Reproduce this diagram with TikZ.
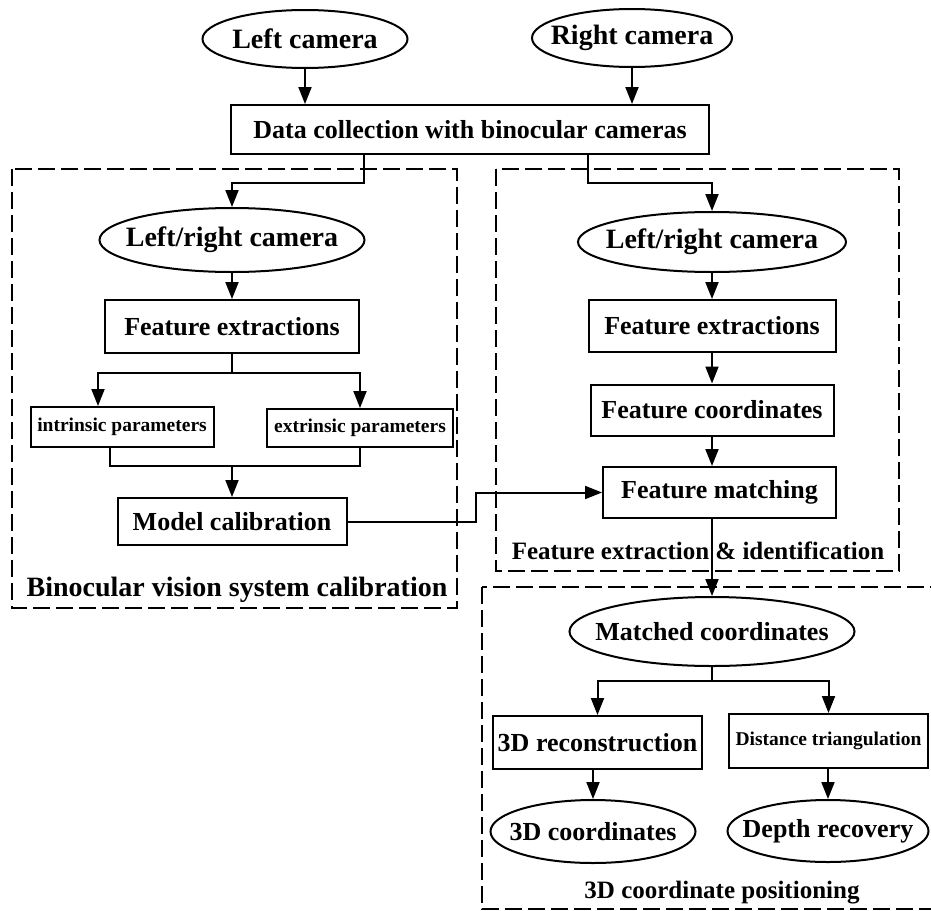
\documentclass[tikz,border=0pt]{standalone}
\usepackage{fontspec}
\setmainfont{Liberation Serif}
\usetikzlibrary{arrows.meta}
\usetikzlibrary{shapes.geometric}

\begin{document}
\begin{tikzpicture}[x=1pt,y=-1pt,line width=2pt,
    font=\bfseries\fontsize{26}{30}\selectfont,
    box/.style={draw,rectangle,inner sep=0pt},
    oval/.style={draw,ellipse,inner xsep=-40pt,inner ysep=-10pt},
    big/.style={font=\bfseries\fontsize{28}{32}\selectfont},
    small/.style={font=\bfseries\fontsize{19.5}{22}\selectfont},
    group/.style={draw,line width=2pt,dash pattern=on 17pt off 6pt},
    arr/.style={-{Triangle[length=17pt,width=13pt]}}]
    \useasboundingbox (0,0) rectangle (931,910);
    \pgfmathsetmacro{\lx}{232}
    \pgfmathsetmacro{\rx}{712}
    % dashed groups
    \draw[group] (12,169) rectangle (457,608);
    \draw[group] (496,169) rectangle (899,571);
    \draw[group] (482,587) rectangle (933,909);
    % top
    \node[oval,big,minimum width=205pt,minimum height=58pt] (lcam) at (305,39) {Left camera};
    \node[oval,big,minimum width=200pt,minimum height=58pt] (rcam) at (632,38) {Right camera};
    \node[box,minimum width=478pt,minimum height=49pt] (data) at (470,129.5) {Data collection with binocular cameras};
    % calibration
    \node[oval,big,minimum width=265pt,minimum height=64pt] (lrcamL) at (\lx,240) {Left/right camera};
    \node[box,minimum width=254pt,minimum height=53pt] (featL) at (\lx,326.5) {Feature extractions};
    \node[box,small,minimum width=183pt,minimum height=40pt] (intr) at (122,427) {intrinsic parameters};
    \node[box,small,minimum width=186pt,minimum height=38pt] (extr) at (360,428) {extrinsic parameters};
    \node[box,minimum width=229pt,minimum height=47pt] (model) at (\lx,521.5) {Model calibration};
    \node[big] (calib) at (237,590) {Binocular vision system calibration};
    % extraction
    \node[oval,big,minimum width=268pt,minimum height=60pt] (lrcamR) at (\rx,242) {Left/right camera};
    \node[box,minimum width=247pt,minimum height=52pt] (featR) at (\rx,326) {Feature extractions};
    \node[box,minimum width=243pt,minimum height=51pt] (fcoord) at (\rx,410) {Feature coordinates};
    \node[box,minimum width=233pt,minimum height=51pt] (fmatch) at (719.5,492.5) {Feature matching};
    \node[font=\bfseries\fontsize{25}{30}\selectfont] (ident) at (698,551) {Feature extraction \& identification};
    % positioning
    \node[oval,minimum width=285pt,minimum height=69pt] (match) at (\rx,631.5) {Matched coordinates};
    \node[box,minimum width=209pt,minimum height=53pt] (recon) at (597.5,742.5) {3D reconstruction};
    \node[box,small,minimum width=199pt,minimum height=54pt] (dist) at (828.5,741) {Distance triangulation};
    \node[oval,minimum width=205pt,minimum height=63pt] (coords) at (593,831.5) {3D coordinates};
    \node[oval,minimum width=201pt,minimum height=62pt] (depth) at (828,831) {Depth recovery};
    \node[font=\bfseries\fontsize{25}{30}\selectfont] (pos) at (722,893) {3D coordinate positioning};
    % connectors
    \draw[arr] (lcam.south) -- (lcam.south |- data.north);
    \draw[arr] (rcam.south) -- (rcam.south |- data.north);
    \draw[arr] ([xshift=-106pt]data.south) -- ++(0,28) -| (lrcamL.north);
    \draw[arr] ([xshift=118pt]data.south) -- ++(0,28) -| (lrcamR.north);
    \draw[arr] (lrcamL) -- (featL);
    \draw (featL.south) -- ++(0,19) coordinate (brL);
    \draw[arr] (brL) -| ([xshift=-24pt]intr.north);
    \draw[arr] (brL) -| (extr.north);
    \draw ([xshift=-12pt]intr.south) -- ++(0,18) coordinate (mrg) -| (extr.south);
    \draw[arr] (mrg -| model.north) -- (model.north);
    \draw[arr] (model.east) -- ++(128,0) |- (fmatch.west);
    \draw[arr] (lrcamR) -- (featR);
    \draw[arr] (featR) -- (fcoord);
    \draw[arr] (fcoord.south) -- (fcoord.south |- fmatch.north);
    \draw[arr] (match.north |- fmatch.south) -- (match.north);
    \draw (match.south) -- ++(0,14) coordinate (brB);
    \draw[arr] (brB) -| (recon.north);
    \draw[arr] (brB) -| (dist.north);
    \draw[arr] (coords.north |- recon.south) -- (coords.north);
    \draw[arr] (depth.north |- dist.south) -- (depth.north);
\end{tikzpicture}
\end{document}
